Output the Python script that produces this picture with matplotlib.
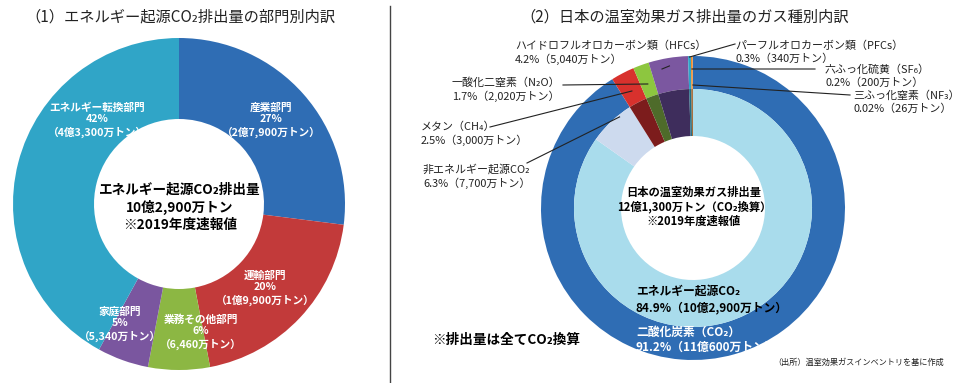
import numpy as np
import matplotlib
matplotlib.use("Agg")
import matplotlib.pyplot as plt

plt.rcParams['font.family'] = ['Noto Sans CJK JP', 'DejaVu Sans']

# ---------------- data ----------------
sector_names = ['産業部門', '運輸部門', '業務その他部門', '家庭部門', 'エネルギー転換部門']
sector_pct = [27, 20, 6, 5, 42]
sector_amount = ['2億7,900万トン', '1億9,900万トン', '6,460万トン', '5,340万トン', '4億3,300万トン']
sector_colors = ['#2f6db4', '#c23a3a', '#8cb743', '#7a569f', '#30a5c7']

gas_names = ['二酸化炭素（CO₂）', 'メタン（CH₄）', '一酸化二窒素（N₂O）',
             'ハイドロフルオロカーボン類（HFCs）', 'パーフルオロカーボン類（PFCs）',
             '六ふっ化硫黄（SF₆）', '三ふっ化窒素（NF₃）']
gas_pct = [91.2, 2.5, 1.7, 4.2, 0.3, 0.2, 0.02]
gas_amount = ['11億600万トン', '3,000万トン', '2,020万トン', '5,040万トン',
              '340万トン', '200万トン', '26万トン']
gas_colors = ['#2f6db4', '#d8312d', '#8dc63f', '#7b57a0', '#2ea6c8', '#f08a2a', '#c0c0c0']

co2_names = ['エネルギー起源CO₂', '非エネルギー起源CO₂']
co2_pct = [84.9, 6.3]
co2_amount = ['10億2,900万トン', '7,700万トン']
inner_colors = ['#a9dcec', '#cddaee', '#7c1c1c', '#4e6b2a', '#3e2d5c', '#1f6f86', '#a35a1a', '#888888']

W, H = 960, 383
fig = plt.figure(figsize=(9.6, 3.83), dpi=100)
ax = fig.add_axes([0, 0, 1, 1])

def Y(y):
    return H - y

TXT = '#222222'

# ---------------- left donut ----------------
lc = (179, Y(204))
R1 = 166
wl, _ = ax.pie(sector_pct, colors=sector_colors, startangle=90, counterclock=False,
               radius=R1, center=lc, wedgeprops=dict(width=R1 - 85, linewidth=0))

left_pos = [(271, 120), (265, 288), (201, 332), (120, 324), (97, 120)]
for name, p, amt, (x, y) in zip(sector_names, sector_pct, sector_amount, left_pos):
    ax.text(x, Y(y), f'{name}\n{p}%\n（{amt}）', ha='center', va='center', color='white',
            fontsize=7.7, fontweight='bold', linespacing=1.22)

ax.text(180, Y(207), 'エネルギー起源CO₂排出量\n10億2,900万トン\n※2019年度速報値',
        ha='center', va='center', color='black', fontsize=9.8, fontweight='bold', linespacing=1.28)

ax.text(25, Y(17), '（1）エネルギー起源CO₂排出量の部門別内訳', ha='left', va='center',
        color=TXT, fontsize=11)

# divider
ax.plot([390, 390], [Y(6), Y(383)], color='#444444', lw=1)

# ---------------- right donut ----------------
rc = (693, Y(208))
Ro, Ri, Rh = 152, 119, 72
wo, _ = ax.pie(gas_pct, colors=gas_colors, startangle=90, counterclock=False,
               radius=Ro, center=rc, wedgeprops=dict(width=Ro - Ri, linewidth=0))
inner_vals = co2_pct + gas_pct[1:]
wi, _ = ax.pie(inner_vals, colors=inner_colors, startangle=90, counterclock=False,
               radius=Ri, center=rc, wedgeprops=dict(width=Ri - Rh, linewidth=0))

ax.text(520, Y(17), '（2）日本の温室効果ガス排出量のガス種別内訳', ha='left', va='center',
        color=TXT, fontsize=11)

def pt(w, r, frac=0.5):
    a = np.deg2rad(w.theta1 + (w.theta2 - w.theta1) * frac)
    return rc[0] + r * np.cos(a), rc[1] + r * np.sin(a)

lab_fs = 7.9
# outer-ring labels (index, label pos, line start, radius for target)
outer_specs = [
    (3, (515, 53), (662, 69), Ro - 8),
    (2, (452, 90), (563, 85), Ro - 20),
    (1, (421, 134), (490, 127), Ro - 20),
    (4, (735, 52), (735, 44), Ro - 1),
    (5, (825, 76), (815, 69), Ro - 13),
    (6, (853, 102), (850, 95), Ro - 29),
]
for idx, (lx, ly), (axp, ayp), r in outer_specs:
    ax.text(lx, Y(ly), f'{gas_names[idx]}\n{gas_pct[idx]}%（{gas_amount[idx]}）', ha='left',
            va='center', color=TXT, fontsize=lab_fs, linespacing=1.3)
    tx, ty = pt(wo[idx], r)
    ax.plot([axp, tx], [Y(ayp), ty], color='#222222', lw=0.8)

# non-energy CO2 label
ax.text(423, Y(176), f'{co2_names[1]}\n{co2_pct[1]}%（{co2_amount[1]}）', ha='left',
        va='center', color=TXT, fontsize=lab_fs, linespacing=1.3)
tx, ty = pt(wi[1], Ri - 2, 0.3)
ax.plot([527, tx], [Y(163), ty], color='#222222', lw=0.8)

ax.text(694, Y(207), '日本の温室効果ガス排出量\n12億1,300万トン（CO₂換算）\n※2019年度速報値',
        ha='center', va='center', color='black', fontsize=8.1, fontweight='bold', linespacing=1.15)

ax.text(636, Y(300), f'{co2_names[0]}\n{co2_pct[0]}%（{co2_amount[0]}）', ha='left',
        va='center', color='black', fontsize=8.5, fontweight='bold', linespacing=1.2)
ax.text(636, Y(340), f'{gas_names[0]}\n{gas_pct[0]}%（{gas_amount[0]}）', ha='left',
        va='center', color='white', fontsize=8.5, fontweight='bold', linespacing=1.2)

ax.text(432, Y(340), '※排出量は全てCO₂換算', ha='left', va='center', color='black',
        fontsize=9.8, fontweight='bold')
ax.text(773, Y(362), '（出所）温室効果ガスインベントリを基に作成', ha='left', va='center',
        color=TXT, fontsize=5.9)

ax.set_xlim(0, W)
ax.set_ylim(0, H)
ax.set_aspect('auto')
ax.axis('off')

fig.savefig('out.png', dpi=100)
